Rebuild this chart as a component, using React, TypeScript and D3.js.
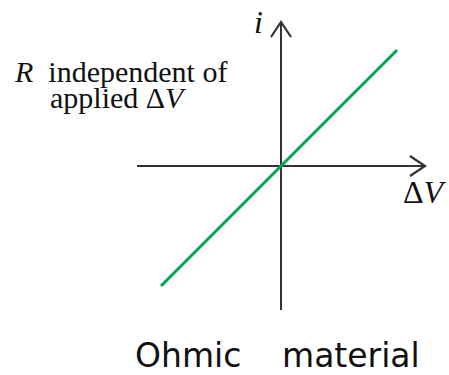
import React from "react";
import * as d3 from "d3";

const voltage = [-1.0, 0.967];
const current = [-1.0, 0.967];
const axisExtent = [-1.2, 1.2];
const labels = { y: "i", x: "ΔV", note1: "R", note2: "independent of", note3: "applied ΔV", title1: "Ohmic", title2: "material" };

export default function App() {
  const W = 449, H = 375;
  const x = d3.scaleLinear().domain(axisExtent).range([137, 425]);
  const y = d3.scaleLinear().domain(axisExtent).range([310, 22]);
  const pts = voltage.map((v, i) => [x(v), y(current[i])] as [number, number]);
  const line = d3.line()(pts) || "";
  const x0 = x(0), y0 = y(0);
  const axisColor = "#333";
  const serif = "'Liberation Serif', 'Times New Roman', serif";
  return (
    <svg width={W} height={H} style={{ position: "absolute", left: 0, top: 0, background: "#fff" }}>
      <line x1={x(axisExtent[0])} y1={y0} x2={x(axisExtent[1])} y2={y0} stroke={axisColor} strokeWidth={2} />
      <line x1={x0} y1={y(axisExtent[0])} x2={x0} y2={y(axisExtent[1])} stroke={axisColor} strokeWidth={2} />
      <path d={`M${x(axisExtent[1]) - 15},${y0 - 10} L${x(axisExtent[1])},${y0} L${x(axisExtent[1]) - 15},${y0 + 10}`} fill="none" stroke={axisColor} strokeWidth={2.2} />
      <path d={`M${x0 - 10},${y(axisExtent[1]) + 15} L${x0},${y(axisExtent[1])} L${x0 + 10},${y(axisExtent[1]) + 15}`} fill="none" stroke={axisColor} strokeWidth={2.2} />
      <path d={line} stroke="#00a651" strokeWidth={3} fill="none" />
      <text x={254} y={33} fontFamily={serif} fontStyle="italic" fontSize={32} fill="#111">{labels.y}</text>
      <text x={403} y={203} fontFamily={serif} fontSize={32} fill="#111">Δ<tspan fontStyle="italic">V</tspan></text>
      <text x={15} y={82} fontFamily={serif} fontSize={30} fill="#111"><tspan fontStyle="italic">{labels.note1}</tspan>{"\u00a0 independent of"}</text>
      <text x={50} y={108} fontFamily={serif} fontSize={30} fill="#111">applied Δ<tspan fontStyle="italic">V</tspan></text>
      <text x={135} y={367} fontFamily="'DejaVu Sans', sans-serif" fontSize={33} fill="#111">{labels.title1}</text>
      <text x={282} y={367} fontFamily="'DejaVu Sans', sans-serif" fontSize={33} fill="#111">{labels.title2}</text>
    </svg>
  );
}
